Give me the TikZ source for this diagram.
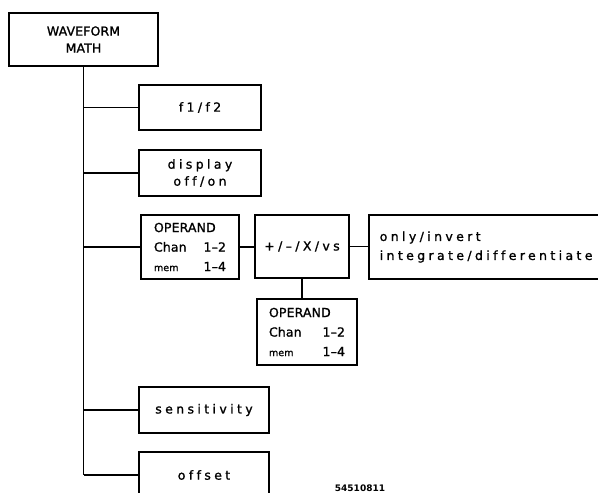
\documentclass[tikz,border=0pt]{standalone}
\usepackage{fontspec}
\setmainfont{DejaVu Sans}[FakeBold=1.2]
\newfontfamily\widefont{DejaVu Sans}[LetterSpace=27, Ligatures=NoCommon, FakeBold=1.2]
\newfontfamily\capfont{DejaVu Sans}[LetterSpace=1, FakeBold=1.2]
\newfontfamily\numfont{DejaVu Sans Bold}

\begin{document}
\begin{tikzpicture}[x=1pt, y=-1pt, line width=1.5pt,
  menubox/.style={draw, line width=1.5pt, inner sep=0pt, align=center},
  lowtext/.style={font=\widefont\fontsize{12.5}{17}\selectfont},
  captext/.style={font=\capfont\fontsize{12.5}{17}\selectfont},
  opertext/.style={font=\capfont\fontsize{12.5}{19.5}\selectfont, text width=72, align=left}]
  \useasboundingbox (0,0) rectangle (598,493);
  % top menu
  \node[menubox, captext, minimum width=149, minimum height=53] (math) at (83.5,39.5) {WAVEFORM\\MATH};
  % keys below
  \node[menubox, lowtext, minimum width=122, minimum height=45] (f12) at (200,107.5) {f1/f2};
  \node[menubox, lowtext, minimum width=122, minimum height=46] (disp) at (200,173) {display\\off/on};
  \node[menubox, opertext, minimum width=98, minimum height=64] (opa) at (190,247)
    {OPERAND\\Chan\hfill 1–2\\{\fontsize{9.5}{19.5}\selectfont mem}\hfill 1–4};
  \node[menubox, lowtext, minimum width=94, minimum height=63] (ops) at (302,246.5) {+/–/X/vs};
  \node[menubox, lowtext, anchor=west, inner xsep=11, text width=230, align=left,
    minimum height=64, font=\widefont\fontsize{12.5}{19}\selectfont] (mode) at (368,247)
    {only/invert\\integrate/differentiate};
  \node[menubox, opertext, minimum width=100, minimum height=66, text width=76] (opb) at (307,332)
    {OPERAND\\Chan\hfill 1–2\\{\fontsize{9.5}{19.5}\selectfont mem}\hfill 1–4};
  \node[menubox, lowtext, minimum width=130, minimum height=46] (sens) at (204,410) {sensitivity};
  \node[menubox, lowtext, minimum width=130, minimum height=46] (offs) at (204,475) {offset};
  % figure number
  \node[font=\numfont\fontsize{9}{10}\selectfont] (fignum) at (360,488) {54510811};
  % connectors
  \draw (math.south) -- (math.south |- offs.west);
  \foreach \k in {f12,disp,opa,sens,offs}
    \draw (math.south |- \k.west) -- (\k.west);
  \draw (opa.east) -- (opa.east -| ops.west);
  \draw (ops.east) -- (ops.east -| mode.west);
  \draw (ops.south) -- (ops.south |- opb.north);
\end{tikzpicture}
\end{document}
